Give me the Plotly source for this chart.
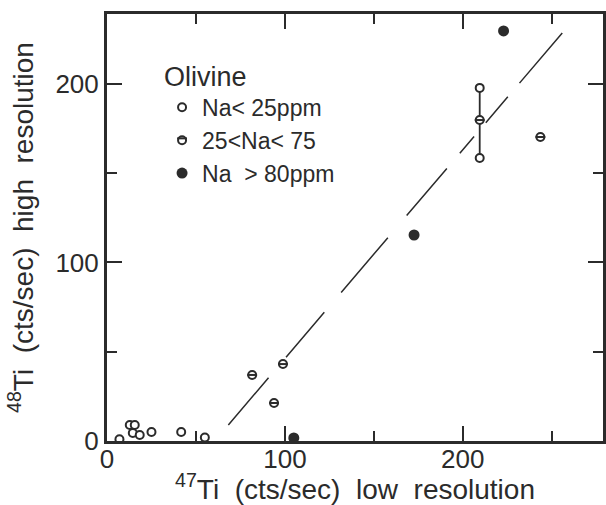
import plotly.graph_objects as go

# ---- data ----
low_na_x = [7, 12.8, 15.6, 14.5, 18.4, 25, 41.7, 55, 209.5, 209.5]
low_na_y = [1, 9, 9, 4.5, 3.4, 5, 5, 2, 197.8, 158.5]

mid_na_x = [209.5, 243.6, 98.9, 81.6, 93.9]
mid_na_y = [179.8, 170.3, 43.1, 37, 21.3]

high_na_x = [222.9, 172.6, 105]
high_na_y = [229.7, 115.4, 1.7]

range_x = [209.5, 209.5]
range_y = [158.5, 197.8]

fit_x = [68.2, 255.9]
fit_y = [9, 228.6]

x_ticks = [0, 100, 200]
y_ticks = [0, 100, 200]

INK = "#2b2b2b"
FONT = "Liberation Sans"

fig = go.Figure()

fig.add_trace(go.Scatter(
    x=fit_x, y=fit_y, mode="lines", showlegend=False,
    line=dict(color=INK, width=1.5,
              dash="62px,27px,59px,26px,72px,29px,62px,20px,22px,18px,34px,18px,66px"),
))
fig.add_trace(go.Scatter(
    x=range_x, y=range_y, mode="lines", showlegend=False,
    line=dict(color=INK, width=1.8),
))
fig.add_trace(go.Scatter(
    x=low_na_x, y=low_na_y, mode="markers", name="Na&lt; 25ppm",
    marker=dict(symbol="circle", size=8, color="white", line=dict(color=INK, width=2)),
))
fig.add_trace(go.Scatter(
    x=mid_na_x, y=mid_na_y, mode="markers", name="25&lt;Na&lt; 75",
    marker=dict(symbol="circle", size=8, color="white", line=dict(color=INK, width=2)),
))
fig.add_trace(go.Scatter(
    x=mid_na_x, y=mid_na_y, mode="markers", name=" ", legend="legend2",
    marker=dict(symbol="line-ew", size=7, color=INK, line=dict(color=INK, width=2)),
))
fig.add_trace(go.Scatter(
    x=high_na_x, y=high_na_y, mode="markers", name="Na  &gt; 80ppm",
    marker=dict(symbol="circle", size=11, color=INK, line=dict(color=INK, width=0)),
))

axis_common = dict(
    showline=True, linecolor=INK, linewidth=3, mirror="allticks",
    ticks="inside", ticklen=15, tickwidth=2, tickcolor=INK,
    minor=dict(dtick=50, ticks="inside", ticklen=10, tickwidth=2, tickcolor=INK),
    showgrid=False, zeroline=False,
    tickfont=dict(family=FONT, size=26, color=INK),
)

fig.update_xaxes(
    range=[0, 278.8], tickvals=x_ticks, ticktext=[str(v) for v in x_ticks],
    ticklabelstandoff=-7,
    title=dict(text="<sup>47</sup>Ti  (cts/sec)  low  resolution",
               font=dict(family=FONT, size=28, color=INK), standoff=9),
    **axis_common,
)
fig.update_yaxes(
    range=[0, 239.2], tickvals=y_ticks, ticktext=[str(v) for v in y_ticks],
    title=dict(text="<sup>48</sup>Ti  (cts/sec)  high  resolution",
               font=dict(family=FONT, size=28, color=INK), standoff=14),
    **axis_common,
)

fig.update_layout(
    width=606, height=505,
    margin=dict(l=107, r=0, t=14, b=64),
    paper_bgcolor="white", plot_bgcolor="white",
    legend=dict(
        x=0.111, y=0.914, xanchor="left", yanchor="top",
        title=dict(text="Olivine", font=dict(family=FONT, size=27, color=INK)),
        font=dict(family=FONT, size=23, color=INK),
        bgcolor="rgba(0,0,0,0)", traceorder="normal",
    ),
    legend2=dict(
        x=0.111, y=0.759, xanchor="left", yanchor="top",
        font=dict(family=FONT, size=23, color=INK),
        bgcolor="rgba(0,0,0,0)",
    ),
)

fig.write_html("out.html")
